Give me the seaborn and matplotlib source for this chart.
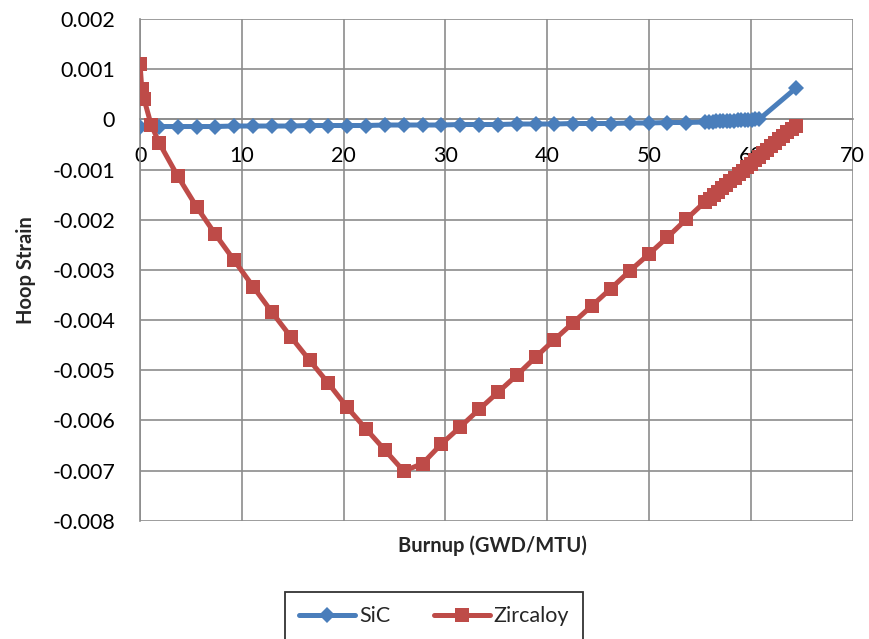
import matplotlib
matplotlib.use("Agg")
import matplotlib.pyplot as plt
import seaborn as sns
import pandas as pd

# SiC hoop strain vs burnup
sic_burnup = [0, 1.85, 3.7, 5.55, 7.4, 9.25, 11.1, 12.95, 14.8, 16.65, 18.5, 20.35,
              22.2, 24.05, 25.9, 27.75, 29.6, 31.45, 33.3, 35.15, 37.0, 38.85, 40.7,
              42.55, 44.4, 46.25, 48.1, 49.95, 51.8, 53.65, 55.5,
              55.9, 56.25, 56.6, 56.95, 57.3, 57.65, 58.0, 58.35, 58.7, 59.05, 59.4,
              59.75, 60.1, 60.45, 60.8, 64.4]
sic_strain = [-0.00014, -0.00014, -0.00014, -0.00014, -0.00014, -0.00013, -0.00013,
              -0.00013, -0.00013, -0.00012, -0.00012, -0.00012, -0.00012, -0.00011,
              -0.00011, -0.00011, -0.00011, -0.0001, -0.0001, -0.0001, -0.00009,
              -0.00009, -0.00009, -0.00008, -0.00008, -0.00008, -0.00007, -0.00007,
              -0.00006, -0.00006, -0.00005,
              -0.00005, -0.00005, -0.00004, -0.00004, -0.00004, -0.00003, -0.00003,
              -0.00003, -0.00002, -0.00002, -0.00002, -0.00001, -0.00001, 0.0, 0.0,
              0.00062]

# Zircaloy hoop strain vs burnup
zr_burnup = [0, 0.17, 0.4, 1.08, 1.86, 3.7, 5.55, 7.4, 9.25, 11.1, 12.95, 14.8, 16.65,
             18.5, 20.35, 22.2, 24.05, 25.9, 27.75, 29.6, 31.45, 33.3, 35.15, 37.0,
             38.85, 40.7, 42.55, 44.4, 46.25, 48.1, 49.95, 51.8, 53.65, 55.5,
             56.0, 56.4, 56.8, 57.2, 57.6, 58.0, 58.4, 58.8, 59.2, 59.6, 60.0, 60.4,
             60.8, 61.2, 61.6, 62.0, 62.4, 62.8, 63.2, 63.6, 64.0, 64.4]
zr_strain = [0.0011, 0.0006, 0.0004, -0.0001, -0.00046, -0.00113, -0.00174, -0.00229,
             -0.00281, -0.00333, -0.00384, -0.00433, -0.0048, -0.00526, -0.00574,
             -0.00617, -0.00659, -0.00701, -0.00686, -0.00647, -0.00613, -0.00578,
             -0.00544, -0.0051, -0.00474, -0.00439, -0.00405, -0.00371, -0.00337,
             -0.00302, -0.00269, -0.00235, -0.00199, -0.00164,
             -0.00158, -0.00151, -0.00144, -0.00137, -0.0013, -0.00123, -0.00116,
             -0.00109, -0.00102, -0.00095, -0.00088, -0.00081, -0.00074, -0.00067,
             -0.0006, -0.00053, -0.00046, -0.00039, -0.00032, -0.00025, -0.00018,
             -0.00012]

x_ticks = [0, 10, 20, 30, 40, 50, 60, 70]
y_ticks = [0.002, 0.001, 0, -0.001, -0.002, -0.003, -0.004, -0.005, -0.006, -0.007, -0.008]
y_labels = ["0.002", "0.001", "0", "-0.001", "-0.002", "-0.003", "-0.004", "-0.005",
            "-0.006", "-0.007", "-0.008"]

sns.set_style("white")
plt.rcParams["font.family"] = ["Lato", "DejaVu Sans"]

sic_df = pd.DataFrame({"Burnup": sic_burnup, "Strain": sic_strain})
zr_df = pd.DataFrame({"Burnup": zr_burnup, "Strain": zr_strain})

fig = plt.figure(figsize=(8.7, 6.39), dpi=100)
ax = fig.add_axes([0.161, 0.185, 0.819, 0.785])

blue = "#4A7EBB"
red = "#BE4B48"
sns.lineplot(data=sic_df, x="Burnup", y="Strain", ax=ax, color=blue, lw=3.6,
             marker="D", markersize=8, markeredgewidth=0, sort=False, estimator=None,
             label="SiC", zorder=3)
sns.lineplot(data=zr_df, x="Burnup", y="Strain", ax=ax, color=red, lw=3.6,
             marker="s", markersize=9.5, markeredgewidth=0, sort=False, estimator=None,
             label="Zircaloy", zorder=4)

ax.set_xlim(0, 70)
ax.set_ylim(-0.008, 0.002)
ax.set_xticks(x_ticks)
ax.set_yticks(y_ticks)
ax.set_yticklabels(y_labels)
ax.grid(True, color="#8C8C8C", lw=1.2)
ax.set_axisbelow(True)

for side in ["top", "right"]:
    ax.spines[side].set_visible(False)
ax.spines["left"].set_color("#8C8C8C")
ax.spines["left"].set_linewidth(1.2)
ax.spines["bottom"].set_position(("data", 0))
ax.spines["bottom"].set_color("#8C8C8C")
ax.spines["bottom"].set_linewidth(1.2)
ax.tick_params(axis="both", length=0, labelsize=15.5, colors="black")
ax.tick_params(axis="x", pad=19)
ax.tick_params(axis="y", pad=18)

ax.set_xlabel("")
ax.set_ylabel("Hoop Strain", fontsize=14.5, fontweight="bold", labelpad=12)
fig.text(0.566, 0.146, "Burnup (GWD/MTU)", fontsize=14.5, fontweight="bold",
         ha="center", va="center")

handles, labels = ax.get_legend_handles_labels()
ax.get_legend().remove()
leg = fig.legend(handles, labels, loc="upper center", bbox_to_anchor=(0.499, 0.09),
                 ncol=2, frameon=True, fancybox=False, fontsize=15.5,
                 handlelength=2.6, handletextpad=0.2, columnspacing=2.0,
                 borderpad=0.65, edgecolor="black")
leg.get_frame().set_linewidth(1.3)

fig.savefig("out.png", dpi=100)
